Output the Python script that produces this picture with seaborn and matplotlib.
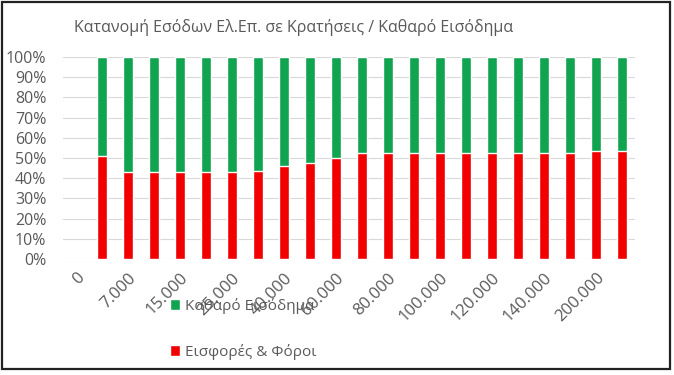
import pandas as pd
import matplotlib.pyplot as plt
import seaborn as sns
from matplotlib.patches import Patch, Rectangle

# income levels (euro), every other label shown like the original
categories = ['0', '5.000', '7.000', '10.000', '15.000', '20.000', '25.000', '30.000',
              '40.000', '50.000', '60.000', '70.000', '80.000', '90.000', '100.000',
              '110.000', '120.000', '130.000', '140.000', '150.000', '200.000', '250.000']
# share (%) of contributions & taxes
eisfores = [0, 51, 43, 43, 43, 43, 43, 43.7, 46, 47.4, 50.1, 52.6, 52.6, 52.6,
            52.6, 52.6, 52.6, 52.6, 52.6, 52.6, 53.6, 53.6]
# share (%) of net income
katharo = [0, 49, 57, 57, 57, 57, 57, 56.3, 54, 52.6, 49.9, 47.4, 47.4, 47.4,
           47.4, 47.4, 47.4, 47.4, 47.4, 47.4, 46.4, 46.4]

green = '#10A450'
red = '#F20000'
grey = '#595959'

df = pd.DataFrame({'Εισόδημα': categories, 'Εισφορές': eisfores, 'Καθαρό': katharo})
df['Σύνολο'] = df['Εισφορές'] + df['Καθαρό']

sns.set_theme(style='white')
plt.rcParams['font.family'] = ['Open Sans', 'DejaVu Sans']

fig = plt.figure(figsize=(6.74, 3.75), dpi=100)
ax = fig.add_axes([63 / 674, 116 / 375, 572 / 674, 202 / 375])

sns.barplot(data=df, x='Εισόδημα', y='Σύνολο', color=green, width=0.38,
            saturation=1, ax=ax, zorder=3)
sns.barplot(data=df, x='Εισόδημα', y='Εισφορές', color=red, width=0.38,
            saturation=1, ax=ax, zorder=3)

ax.set_xlim(-0.5, len(categories) - 0.5)
ax.set_ylim(0, 100)
ax.set_yticks(range(0, 101, 10))
ax.set_yticklabels([f'{v}%' for v in range(0, 101, 10)], color=grey, fontsize=11.5)
ax.yaxis.grid(True, color='#D9D9D9', linewidth=0.8, zorder=0)
ax.set_xticks(range(len(categories)))
ax.set_xticklabels([c if i % 2 == 0 else '' for i, c in enumerate(categories)],
                   rotation=45, ha='right', rotation_mode='anchor',
                   color=grey, fontsize=12)
ax.tick_params(axis='both', length=0)
ax.tick_params(axis='x', pad=8)
ax.tick_params(axis='y', pad=12)
ax.set_xlabel('')
ax.set_ylabel('')
for s in ax.spines.values():
    s.set_visible(False)

fig.suptitle('Κατανομή Εσόδων Ελ.Επ. σε Κρατήσεις / Καθαρό Εισόδημα',
             x=294 / 674, y=1 - 27 / 375, va='center', color=grey, fontsize=11.5)

handles = [Patch(facecolor=green, label='Καθαρό Εισόδημα'),
           Patch(facecolor=red, label='Εισφορές & Φόροι')]
leg = fig.legend(handles=handles, loc='upper left', bbox_to_anchor=(156 / 674, 1 - 284 / 375),
                 frameon=False, fontsize=11, handlelength=0.7, handleheight=0.7,
                 handletextpad=0.3, labelspacing=1.95)
for t in leg.get_texts():
    t.set_color(grey)

fig.patches.append(Rectangle((1.5 / 674, 6 / 375), 668.5 / 674, 367 / 375,
                             transform=fig.transFigure, fill=False,
                             edgecolor='#222222', linewidth=1.6))

fig.savefig('out.png', dpi=100)
